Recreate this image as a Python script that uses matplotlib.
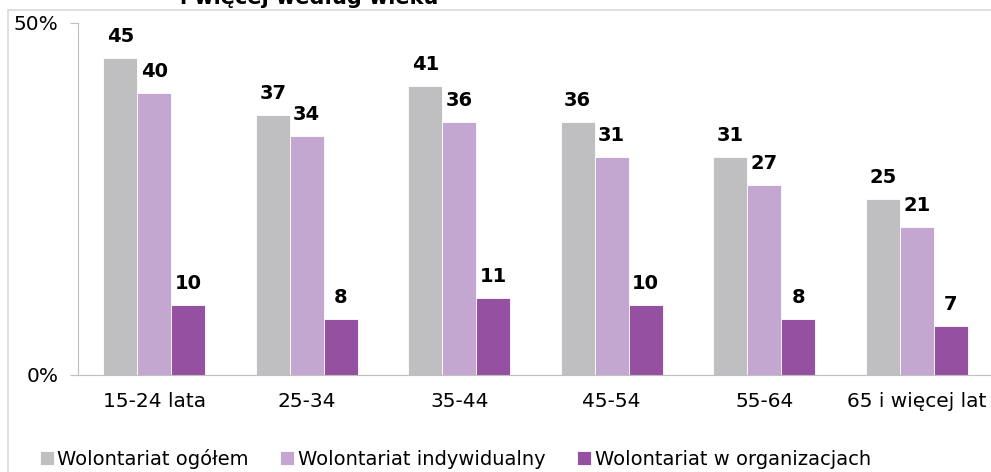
import matplotlib
matplotlib.use("Agg")
import matplotlib.pyplot as plt
import numpy as np
from matplotlib.patches import Rectangle

categories = ["15-24 lata", "25-34", "35-44", "45-54", "55-64", "65 i więcej lat"]
ogolem = [45, 37, 41, 36, 31, 25]
indywidualny = [40, 34, 36, 31, 27, 21]
organizacje = [10, 8, 11, 10, 8, 7]
series_names = ["Wolontariat ogółem", "Wolontariat indywidualny", "Wolontariat w organizacjach"]
colors = ["#BFBFC2", "#C4A7D0", "#9650A1"]
yticks = [0, 50]
ytick_labels = ["0%", "50%"]

W, H = 991, 472
fig = plt.figure(figsize=(W / 100, H / 100), dpi=100)

# outer frame (extends past right and bottom edges as in the reference)
fig.patches.append(Rectangle((8 / W, -0.1), 1.2, 1 - 9.5 / H + 0.1, transform=fig.transFigure,
                             fill=False, edgecolor="#D9D9D9", lw=1.2))

ax = fig.add_axes([78 / W, 1 - 375 / H, (993 - 78) / W, (375 - 23) / H])
x = np.arange(len(categories))
bw = 0.223
offs = [-bw, 0, bw]
data = [ogolem, indywidualny, organizacje]
for i, (vals, c) in enumerate(zip(data, colors)):
    ax.bar(x + offs[i], vals, width=bw, color=c, label=series_names[i], edgecolor="white", linewidth=0.6)
    for xi, v in zip(x, vals):
        ax.annotate(str(v), (xi + offs[i], v), xytext=(0, 11.5), textcoords="offset points",
                    ha="center", va="baseline", fontsize=14, fontweight="bold", color="black",
                    family="DejaVu Sans")

ax.set_xlim(-0.5, len(categories) - 0.5)
ax.set_ylim(0, 50)
ax.set_yticks(yticks)
ax.set_yticklabels(ytick_labels, fontsize=14.5)
ax.set_xticks(x)
ax.set_xticklabels(categories, fontsize=14.5)
ax.tick_params(axis="x", length=0, pad=12)
ax.tick_params(axis="y", length=6, color="#BFBFBF", pad=8)
for s in ["top", "right"]:
    ax.spines[s].set_visible(False)
ax.spines["left"].set_color("#BFBFBF")
ax.spines["bottom"].set_color("#BFBFBF")

fig.legend(loc="center left", bbox_to_anchor=(22 / W, 1 - 459 / H), ncol=3, frameon=False,
           handlelength=0.72, handleheight=0.72, handletextpad=0.2,
           columnspacing=1.6, prop={"size": 14})

fig.text(180 / W, 1 - 4 / H, "i więcej według wieku", ha="left", va="baseline",
         fontsize=15, fontweight="bold", family="DejaVu Sans")

fig.savefig("out.png", dpi=100)
